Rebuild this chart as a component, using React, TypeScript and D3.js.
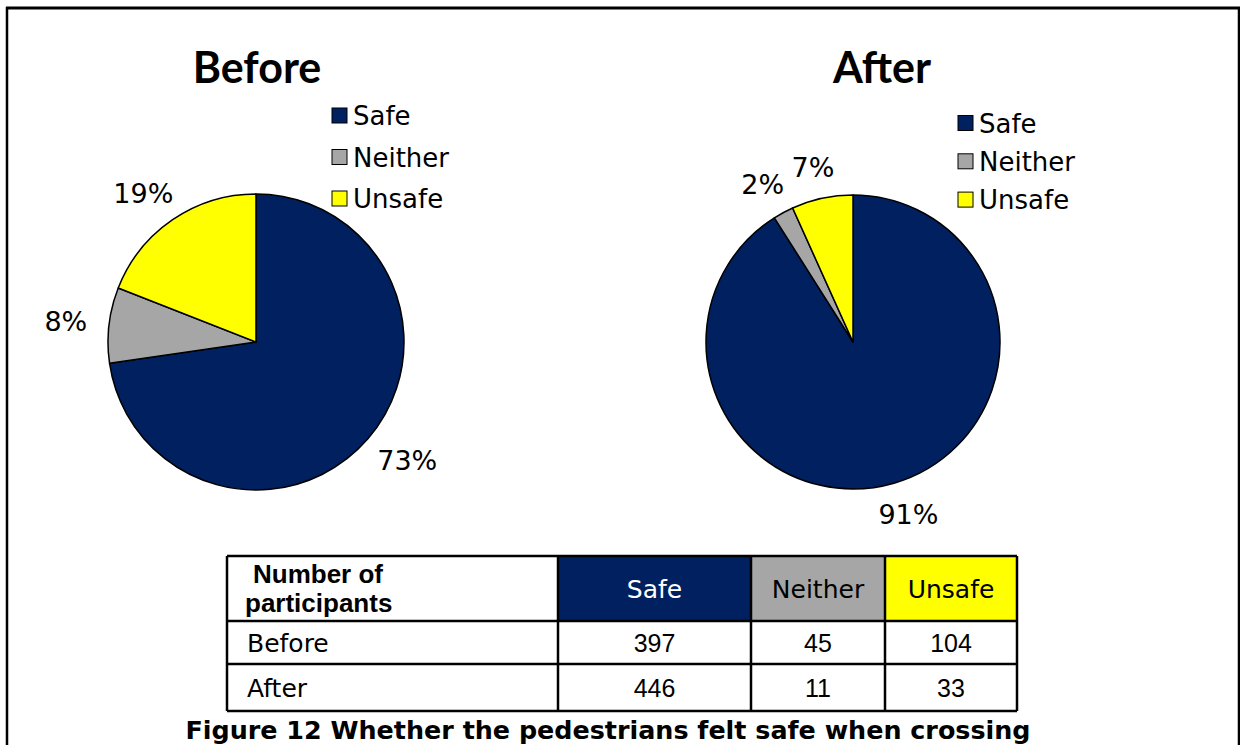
import React from "react";
import * as d3 from "d3";

const categories = ["Safe", "Neither", "Unsafe"];
const colors = ["#002060", "#A6A6A6", "#FFFF00"];
const beforeCounts = [397, 45, 104];
const afterCounts = [446, 11, 33];
const rowLabels = ["Before", "After"];
const tableHeader = "Number of participants";
const caption = "Figure 12 Whether the pedestrians felt safe when crossing";

const W = 1240;
const H = 745;
const PCT_FS = 27;

function Pie({ title, counts, cx, cy, r, titleX, legendX, legendY, legendStep }: any) {
  const pie = d3.pie<number>().sort(null).value((d) => d);
  const arcs = pie(counts);
  const arc = d3.arc<d3.PieArcDatum<number>>().innerRadius(0).outerRadius(r);
  const total = d3.sum(counts);
  const fmt = (v: number) => Math.round((v / total) * 100) + "%";
  return (
    <g>
      <text x={titleX} y={83} textAnchor="middle" fontFamily="Lato, 'Open Sans', sans-serif" fontWeight={700} fontSize={43} fill="#000">
        {title}
      </text>
      <g transform={`translate(${cx},${cy})`}>
        {arcs.map((a, i) => (
          <path key={i} d={arc(a) || ""} fill={colors[i]} stroke="#000" strokeWidth={1.5} strokeLinejoin="round" />
        ))}
        {arcs.map((a, i) => {
          const m = (a.startAngle + a.endAngle) / 2;
          const ux = Math.sin(m);
          const uy = -Math.cos(m);
          const label = fmt(a.value);
          const w = ((label.length - 1) * 0.636 + 0.95) * PCT_FS;
          const h = 0.73 * PCT_FS;
          const R = r + 22;
          const x = R * ux + (ux * w) / 2;
          const y = R * uy + (uy * h) / 2;
          return (
            <text key={"l" + i} x={x} y={y + h / 2} textAnchor="middle" fontFamily="'DejaVu Sans', Verdana, sans-serif" fontSize={PCT_FS} fill="#000">
              {label}
            </text>
          );
        })}
      </g>
      {categories.map((c, i) => (
        <g key={c} transform={`translate(${legendX},${legendY + i * legendStep})`}>
          <rect x={0} y={-7.5} width={15} height={15} fill={colors[i]} stroke="#000" strokeWidth={1} />
          <text x={21} y={9.5} fontFamily="'DejaVu Sans', Verdana, sans-serif" fontSize={26} fill="#000">
            {c}
          </text>
        </g>
      ))}
    </g>
  );
}

function Table() {
  const colEdges = [227, 558, 751, 885, 1017];
  const rowEdges = [556, 621, 664, 711];
  const data = [beforeCounts, afterCounts];
  const headTextColors = ["#FFFFFF", "#000000", "#000000"];
  const words = tableHeader.split(" ");
  const line1 = words.slice(0, 2).join(" ");
  const line2 = words.slice(2).join(" ");
  return (
    <g>
      {categories.map((c, i) => (
        <rect key={c} x={colEdges[i + 1]} y={rowEdges[0]} width={colEdges[i + 2] - colEdges[i + 1]} height={rowEdges[1] - rowEdges[0]} fill={colors[i]} />
      ))}
      {categories.map((c, i) => (
        <text key={"h" + c} x={(colEdges[i + 1] + colEdges[i + 2]) / 2} y={(rowEdges[0] + rowEdges[1]) / 2 + 9} textAnchor="middle" fontFamily="'DejaVu Sans', Verdana, sans-serif" fontSize={25} fill={headTextColors[i]}>
          {c}
        </text>
      ))}
      <text x={253} y={583} fontFamily="'Liberation Sans', Arial, sans-serif" fontWeight={700} fontSize={26} fill="#000">{line1}</text>
      <text x={245} y={612} fontFamily="'Liberation Sans', Arial, sans-serif" fontWeight={700} fontSize={26} fill="#000">{line2}</text>
      {rowLabels.map((lbl, r) => (
        <g key={lbl}>
          <text x={247} y={(rowEdges[r + 1] + rowEdges[r + 2]) / 2 + 9} fontFamily="'DejaVu Sans', Verdana, sans-serif" fontSize={25} fill="#000">
            {lbl}
          </text>
          {data[r].map((v, c) => (
            <text key={c} x={(colEdges[c + 1] + colEdges[c + 2]) / 2} y={(rowEdges[r + 1] + rowEdges[r + 2]) / 2 + 9} textAnchor="middle" fontFamily="'Liberation Sans', Arial, sans-serif" fontSize={25} fill="#000">
              {v}
            </text>
          ))}
        </g>
      ))}
      {rowEdges.map((y, i) => (
        <line key={"r" + i} x1={colEdges[0]} x2={colEdges[colEdges.length - 1]} y1={y} y2={y} stroke="#000" strokeWidth={2.5} />
      ))}
      {colEdges.map((x, i) => (
        <line key={"c" + i} x1={x} x2={x} y1={rowEdges[0]} y2={rowEdges[rowEdges.length - 1]} stroke="#000" strokeWidth={2.5} />
      ))}
    </g>
  );
}

export default function App() {
  return (
    <svg width={W} height={H} style={{ position: "absolute", left: 0, top: 0, background: "#fff" }}>
      <rect x={0} y={0} width={W} height={H} fill="#fff" />
      <line x1={6} x2={1240} y1={8} y2={8} stroke="#000" strokeWidth={3} />
      <line x1={7} x2={7} y1={7} y2={H} stroke="#000" strokeWidth={2.5} />
      <line x1={1239} x2={1239} y1={7} y2={H} stroke="#000" strokeWidth={2.5} />
      <Pie title="Before" counts={beforeCounts} cx={256} cy={342} r={148} titleX={257} legendX={332} legendY={115.5} legendStep={41.5} />
      <Pie title="After" counts={afterCounts} cx={853} cy={342} r={147} titleX={882} legendX={958} legendY={123} legendStep={38.3} />
      <Table />
      <text x={608} y={739} textAnchor="middle" fontFamily="'DejaVu Sans', Verdana, sans-serif" fontWeight={700} fontSize={25.4} fill="#000">
        {caption}
      </text>
    </svg>
  );
}
